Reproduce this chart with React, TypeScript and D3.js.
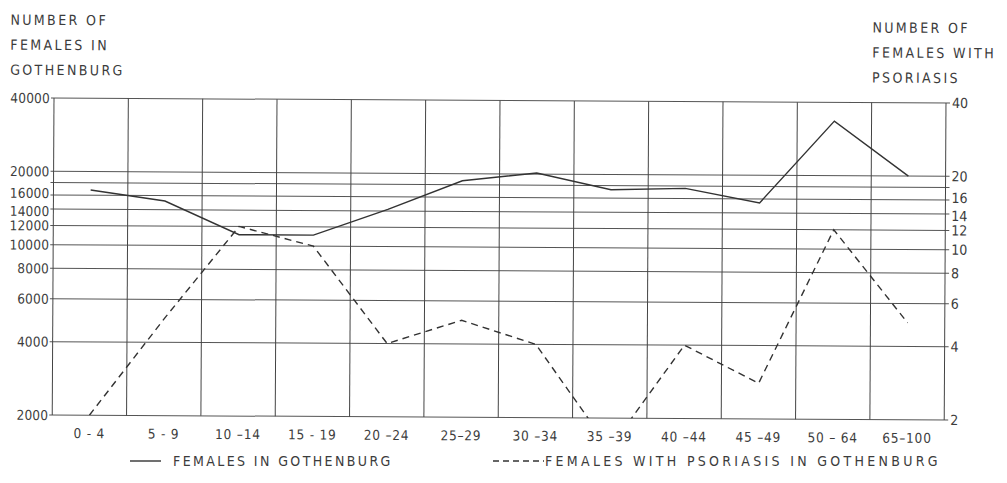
import React, { useRef, useEffect } from 'react';
import * as d3 from 'd3';

const ageGroups = ['0 - 4', '5 - 9', '10 –14', '15 - 19', '20 –24', '25–29', '30 –34', '35 –39', '40 –44', '45 –49', '50 – 64', '65–100'];
const femalesGothenburg = [16800, 15200, 11100, 11100, 14200, 18700, 20200, 17300, 17600, 15400, 33500, 20000];
const femalesPsoriasis = [2, 5, 12, 10, 4, 5, 4, 1.5, 4, 2.8, 12, 5];
const leftTicks = [2000, 4000, 6000, 8000, 10000, 12000, 14000, 16000, 18000, 20000, 40000];
const rightTicks = [2, 4, 6, 8, 10, 12, 14, 16, 18, 20, 40];
const unlabeled = [18000, 18];

const App = () => {
  const ref = useRef(null);

  useEffect(() => {
    if (!ref.current) return;
    d3.select(ref.current).selectAll('*').remove();

    const width = 1007;
    const height = 483;
    const m = { left: 54, right: 946, top: 98, bottom: 415 };
    const font = '"DejaVu Sans Condensed", "DejaVu Sans", sans-serif';
    const ink = '#3c3c3c';

    const svg = d3.select(ref.current)
      .append('svg')
        .attr('width', width)
        .attr('height', height)
        .style('display', 'block')
        .style('background', '#fff');

    // the scan is slightly tilted
    const g = svg.append('g').attr('transform', `rotate(0.32, ${m.left}, ${m.top})`);

    const x = d3.scaleBand().domain(ageGroups).range([m.left, m.right]);
    const yL = d3.scaleLog().domain([2000, 40000]).range([m.bottom, m.top]);
    const yR = d3.scaleLog().domain([2, 40]).range([m.bottom, m.top]);

    // labels for 16 and 14 sit very close, nudge them apart a little
    const nudge = (d, base) => (d === 16 * base ? -2 : d === 14 * base ? 2 : 0);

    // horizontal grid
    g.selectAll('line.h')
      .data(leftTicks)
      .join('line')
        .attr('x1', m.left - 3)
        .attr('x2', m.right + 4)
        .attr('y1', d => yL(d))
        .attr('y2', d => yL(d))
        .attr('stroke', '#555')
        .attr('stroke-width', 1);

    // vertical grid
    const edges = ageGroups.map(d => x(d)).concat([m.right]);
    g.selectAll('line.v')
      .data(edges)
      .join('line')
        .attr('x1', d => d)
        .attr('x2', d => d)
        .attr('y1', m.top)
        .attr('y2', m.bottom)
        .attr('stroke', '#444')
        .attr('stroke-width', 1);

    // left labels
    g.selectAll('text.l')
      .data(leftTicks.filter(d => !unlabeled.includes(d)))
      .join('text')
        .attr('x', m.left - 4)
        .attr('y', d => yL(d) + 5 + nudge(d, 1000))
        .attr('text-anchor', 'end')
        .style('font-family', font)
        .style('font-size', '13.5px')
        .style('letter-spacing', '0.2px')
        .attr('fill', ink)
        .text(d => d);

    // right labels
    g.selectAll('text.r')
      .data(rightTicks.filter(d => !unlabeled.includes(d)))
      .join('text')
        .attr('x', m.right + 6)
        .attr('y', d => yR(d) + 5 + nudge(d, 1))
        .style('font-family', font)
        .style('font-size', '14px')
        .attr('fill', ink)
        .text(d => d);

    // x labels
    g.selectAll('text.x')
      .data(ageGroups)
      .join('text')
        .attr('x', d => x(d) + x.bandwidth() / 2)
        .attr('y', m.bottom + 23)
        .attr('text-anchor', 'middle')
        .style('font-family', font)
        .style('font-size', '13.5px')
        .style('letter-spacing', '0.8px')
        .attr('fill', ink)
        .text(d => d);

    const cx = (i) => x(ageGroups[i]) + x.bandwidth() / 2;

    g.append('clipPath').attr('id', 'plot')
      .append('rect')
        .attr('x', m.left).attr('y', m.top)
        .attr('width', m.right - m.left).attr('height', m.bottom - m.top);

    const lineL = d3.line().x((d, i) => cx(i)).y(d => yL(d));
    const lineR = d3.line().x((d, i) => cx(i)).y(d => yR(d));

    g.append('path')
      .attr('d', lineL(femalesGothenburg))
      .attr('fill', 'none')
      .attr('stroke', '#333')
      .attr('stroke-width', 1.4);

    g.append('path')
      .attr('d', lineR(femalesPsoriasis))
      .attr('clip-path', 'url(#plot)')
      .attr('fill', 'none')
      .attr('stroke', '#333')
      .attr('stroke-width', 1.4)
      .attr('stroke-dasharray', '7,5');

    // axis titles
    const title = (lines, x0, y0) => {
      lines.forEach((t, i) => {
        g.append('text')
          .attr('x', x0)
          .attr('y', y0 + i * 25)
          .style('font-family', font)
          .style('font-size', '14px')
          .style('letter-spacing', '2.4px')
          .attr('fill', ink)
          .text(t);
      });
    };
    title(['NUMBER OF', 'FEMALES IN', 'GOTHENBURG'], 10, 25);
    title(['NUMBER OF', 'FEMALES WITH', 'PSORIASIS'], 872, 28);

    // legend
    const ly = 466;
    svg.append('line')
      .attr('x1', 130).attr('x2', 161).attr('y1', ly - 5).attr('y2', ly - 5)
      .attr('stroke', '#333').attr('stroke-width', 1.4);
    svg.append('text')
      .attr('x', 173).attr('y', ly)
      .style('font-family', font)
      .style('font-size', '14px')
      .style('letter-spacing', '2.4px')
      .attr('fill', ink)
      .text('FEMALES IN  GOTHENBURG');
    svg.append('line')
      .attr('x1', 493).attr('x2', 544).attr('y1', ly - 5).attr('y2', ly - 5)
      .attr('stroke', '#333').attr('stroke-width', 1.4)
      .attr('stroke-dasharray', '6,4');
    svg.append('text')
      .attr('x', 545).attr('y', ly)
      .style('font-family', font)
      .style('font-size', '14px')
      .style('letter-spacing', '3.3px')
      .attr('fill', ink)
      .text('FEMALES WITH PSORIASIS IN GOTHENBURG');
  }, []);

  return <div ref={ref} style={{ position: 'absolute', left: 0, top: 0 }} />;
};

export default App;
